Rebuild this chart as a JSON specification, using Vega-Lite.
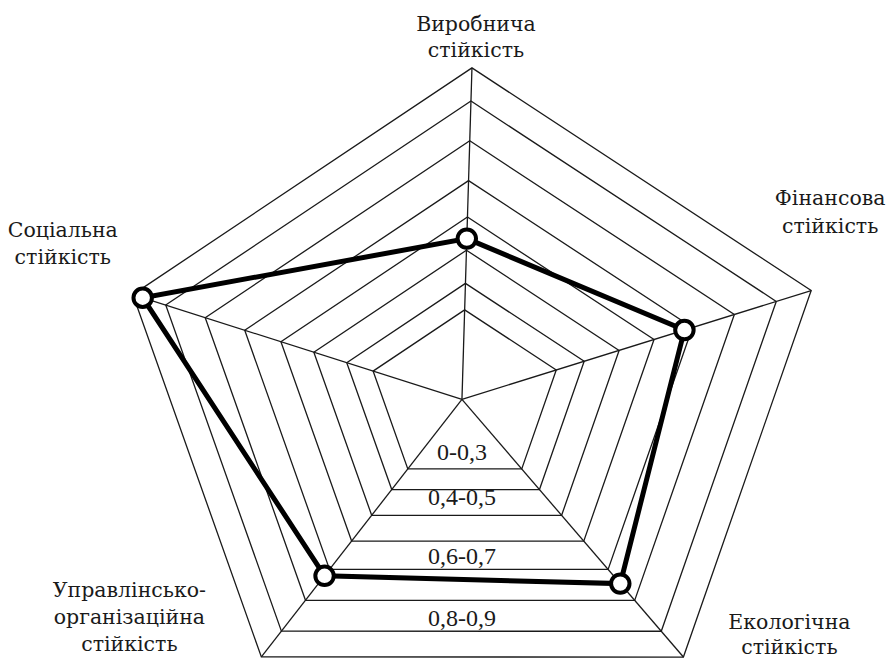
{
  "$schema": "https://vega.github.io/schema/vega-lite/v6.json",
  "width": 886,
  "height": 660,
  "autosize": {"type": "fit", "contains": "padding"},
  "padding": 0,
  "background": "white",
  "config": {"view": {"stroke": null}},
  "datasets": {
    "axes": [
      {"idx": 0, "axis": "Виробнича\nстійкість", "angle": 88.27, "len": 1.0065},
      {"idx": 1, "axis": "Фінансова\nстійкість", "angle": 17.30, "len": 1.1109},
      {"idx": 2, "axis": "Екологічна\nстійкість", "angle": -49.30, "len": 1.0314},
      {"idx": 3, "axis": "Управлінсько-\nорганізаційна\nстійкість", "angle": -127.93, "len": 0.9911},
      {"idx": 4, "axis": "Соціальна\nстійкість", "angle": 162.35, "len": 1.049}
    ],
    "rings": [
      {"ring": 1, "r": 0.27, "idx": [0, 1, 2, 3, 4]},
      {"ring": 2, "r": 0.35, "idx": [0, 1, 2, 3, 4]},
      {"ring": 3, "r": 0.45, "idx": [0, 1, 2, 3, 4]},
      {"ring": 4, "r": 0.55, "idx": [0, 1, 2, 3, 4]},
      {"ring": 5, "r": 0.66, "idx": [0, 1, 2, 3, 4]},
      {"ring": 6, "r": 0.78, "idx": [0, 1, 2, 3, 4]},
      {"ring": 7, "r": 0.90, "idx": [0, 1, 2, 3, 4]},
      {"ring": 8, "r": 1.0, "idx": [0, 1, 2, 3, 4]}
    ],
    "scores": [
      {"idx": 0, "value": 0.485},
      {"idx": 1, "value": 0.637},
      {"idx": 2, "value": 0.715},
      {"idx": 3, "value": 0.685},
      {"idx": 4, "value": 0.97}
    ],
    "bands": [
      {"band": "0-0,3", "r": 0.209},
      {"band": "0,4-0,5", "r": 0.384},
      {"band": "0,6-0,7", "r": 0.612},
      {"band": "0,8-0,9", "r": 0.853}
    ]
  },
  "encoding": {},
  "layer": [
    {
      "data": {"name": "rings"},
      "transform": [
        {"flatten": ["idx"]},
        {"lookup": "idx", "from": {"data": {"name": "axes"}, "key": "idx", "fields": ["angle", "len"]}},
        {"calculate": "datum.r * datum.len * cos(datum.angle * PI / 180)", "as": "x"},
        {"calculate": "datum.r * datum.len * sin(datum.angle * PI / 180)", "as": "y"}
      ],
      "mark": {"type": "line", "interpolate": "linear-closed", "stroke": "#1a1a1a", "strokeWidth": 1.3},
      "encoding": {
        "x": {"field": "x", "type": "quantitative", "scale": {"domain": [-1.4030, 1.2818], "nice": false, "zero": false}, "axis": null},
        "y": {"field": "y", "type": "quantitative", "scale": {"domain": [-0.7879, 1.2121], "nice": false, "zero": false}, "axis": null},
        "detail": {"field": "ring", "type": "nominal"},
        "order": {"field": "idx", "type": "quantitative"}
      }
    },
    {
      "data": {"name": "axes"},
      "transform": [
        {"calculate": "datum.len * cos(datum.angle * PI / 180)", "as": "x"},
        {"calculate": "datum.len * sin(datum.angle * PI / 180)", "as": "y"}
      ],
      "mark": {"type": "rule", "stroke": "#1a1a1a", "strokeWidth": 1.3},
      "encoding": {
        "x": {"field": "x", "type": "quantitative"},
        "y": {"field": "y", "type": "quantitative"},
        "x2": {"datum": 0},
        "y2": {"datum": 0}
      }
    },
    {
      "data": {"name": "scores"},
      "transform": [
        {"lookup": "idx", "from": {"data": {"name": "axes"}, "key": "idx", "fields": ["angle", "len"]}},
        {"calculate": "datum.value * datum.len * cos(datum.angle * PI / 180)", "as": "x"},
        {"calculate": "datum.value * datum.len * sin(datum.angle * PI / 180)", "as": "y"}
      ],
      "mark": {"type": "line", "interpolate": "linear-closed", "stroke": "#000000", "strokeWidth": 5},
      "encoding": {
        "x": {"field": "x", "type": "quantitative"},
        "y": {"field": "y", "type": "quantitative"},
        "order": {"field": "idx", "type": "quantitative"}
      }
    },
    {
      "data": {"name": "scores"},
      "transform": [
        {"lookup": "idx", "from": {"data": {"name": "axes"}, "key": "idx", "fields": ["angle", "len"]}},
        {"calculate": "datum.value * datum.len * cos(datum.angle * PI / 180)", "as": "x"},
        {"calculate": "datum.value * datum.len * sin(datum.angle * PI / 180)", "as": "y"}
      ],
      "mark": {"type": "point", "shape": "circle", "filled": true, "fill": "white", "stroke": "#000000", "strokeWidth": 4, "size": 340, "opacity": 1},
      "encoding": {
        "x": {"field": "x", "type": "quantitative"},
        "y": {"field": "y", "type": "quantitative"}
      }
    },
    {
      "data": {"name": "bands"},
      "transform": [
        {"calculate": "-0.782 * datum.r", "as": "y"}
      ],
      "mark": {"type": "text", "font": "Liberation Serif", "fontSize": 24, "fill": "#1a1a1a", "align": "center", "baseline": "middle"},
      "encoding": {
        "x": {"datum": 0},
        "y": {"field": "y", "type": "quantitative"},
        "text": {"field": "band"}
      }
    },
    {
      "data": {"name": "axes"},
      "transform": [
        {"filter": "datum.idx == 0"},
        {"calculate": "datum.len * cos(datum.angle * PI / 180)", "as": "x"},
        {"calculate": "datum.len * sin(datum.angle * PI / 180)", "as": "y"}
      ],
      "mark": {"type": "text", "font": "DejaVu Serif", "fontSize": 20.5, "lineHeight": 26, "lineBreak": "\n", "fill": "#1a1a1a", "align": "center", "baseline": "alphabetic", "dx": 4, "dy": -37},
      "encoding": {
        "x": {"field": "x", "type": "quantitative"},
        "y": {"field": "y", "type": "quantitative"},
        "text": {"field": "axis"}
      }
    },
    {
      "data": {"name": "axes"},
      "transform": [
        {"filter": "datum.idx == 1"},
        {"calculate": "datum.len * cos(datum.angle * PI / 180)", "as": "x"},
        {"calculate": "datum.len * sin(datum.angle * PI / 180)", "as": "y"}
      ],
      "mark": {"type": "text", "font": "DejaVu Serif", "fontSize": 20.5, "lineHeight": 28, "lineBreak": "\n", "fill": "#1a1a1a", "align": "center", "baseline": "alphabetic", "dx": 19, "dy": -86},
      "encoding": {
        "x": {"field": "x", "type": "quantitative"},
        "y": {"field": "y", "type": "quantitative"},
        "text": {"field": "axis"}
      }
    },
    {
      "data": {"name": "axes"},
      "transform": [
        {"filter": "datum.idx == 2"},
        {"calculate": "datum.len * cos(datum.angle * PI / 180)", "as": "x"},
        {"calculate": "datum.len * sin(datum.angle * PI / 180)", "as": "y"}
      ],
      "mark": {"type": "text", "font": "DejaVu Serif", "fontSize": 20.5, "lineHeight": 25, "lineBreak": "\n", "fill": "#1a1a1a", "align": "center", "baseline": "alphabetic", "dx": 106, "dy": -28},
      "encoding": {
        "x": {"field": "x", "type": "quantitative"},
        "y": {"field": "y", "type": "quantitative"},
        "text": {"field": "axis"}
      }
    },
    {
      "data": {"name": "axes"},
      "transform": [
        {"filter": "datum.idx == 3"},
        {"calculate": "datum.len * cos(datum.angle * PI / 180)", "as": "x"},
        {"calculate": "datum.len * sin(datum.angle * PI / 180)", "as": "y"}
      ],
      "mark": {"type": "text", "font": "DejaVu Serif", "fontSize": 20.5, "lineHeight": 27, "lineBreak": "\n", "fill": "#1a1a1a", "align": "center", "baseline": "alphabetic", "dx": -132, "dy": -60},
      "encoding": {
        "x": {"field": "x", "type": "quantitative"},
        "y": {"field": "y", "type": "quantitative"},
        "text": {"field": "axis"}
      }
    },
    {
      "data": {"name": "axes"},
      "transform": [
        {"filter": "datum.idx == 4"},
        {"calculate": "datum.len * cos(datum.angle * PI / 180)", "as": "x"},
        {"calculate": "datum.len * sin(datum.angle * PI / 180)", "as": "y"}
      ],
      "mark": {"type": "text", "font": "DejaVu Serif", "fontSize": 20.5, "lineHeight": 27, "lineBreak": "\n", "fill": "#1a1a1a", "align": "center", "baseline": "alphabetic", "dx": -70, "dy": -58},
      "encoding": {
        "x": {"field": "x", "type": "quantitative"},
        "y": {"field": "y", "type": "quantitative"},
        "text": {"field": "axis"}
      }
    }
  ]
}
